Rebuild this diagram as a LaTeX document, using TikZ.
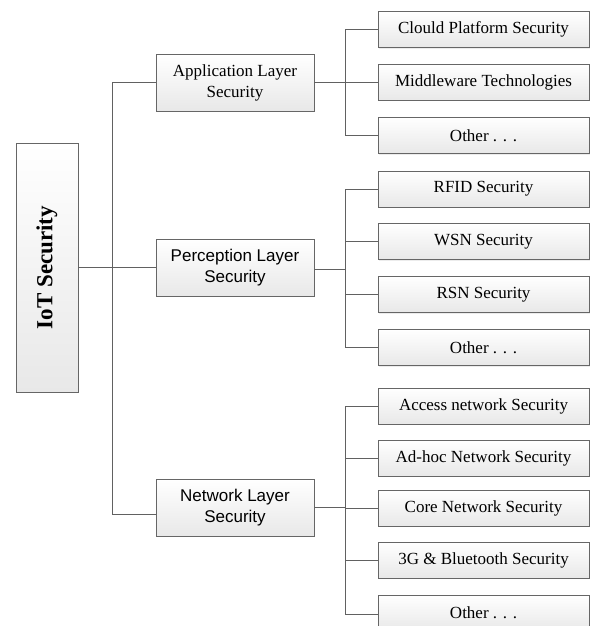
\documentclass[tikz,border=0pt]{standalone}
\usepackage{fontspec}
\setmainfont{Liberation Serif}
\newfontfamily\arialf{Liberation Sans}
\usetikzlibrary{shadows}
\begin{document}
\begin{tikzpicture}[x=1pt,y=-1pt,
  box/.style={draw=black!60, line width=0.9pt, top color=white, bottom color=black!9,
    inner sep=0pt, align=center,
    drop shadow={opacity=0.15, shadow xshift=1.2pt, shadow yshift=-1.2pt}},
  leaf/.style={box, minimum width=211pt, minimum height=36pt, font=\fontsize{17}{21}\selectfont},
  mid/.style={box, minimum width=158pt, minimum height=57pt, font=\fontsize{17}{21}\selectfont},
  midsans/.style={mid, font=\fontsize{17}{21}\selectfont\arialf},
  rootbox/.style={box, rotate=90, minimum width=249pt, minimum height=62pt,
    font=\fontsize{23}{26}\selectfont\bfseries},
  conn/.style={draw=black!62, line width=1pt, line join=miter}]
\useasboundingbox (0,0) rectangle (592,626);

% root
\node[rootbox] (root) at (47,267.5) {IoT Security};

% middle layer
\node[mid] (app) at (235,82.5) {Application Layer\\Security};
\node[midsans] (per) at (235,267.5) {Perception Layer\\Security};
\node[midsans] (net) at (235,507.5) {Network Layer\\Security};

% leaves
\node[leaf] (a1) at (483.5,29.5) {Clould Platform Security};
\node[leaf] (a2) at (483.5,82) {Middleware Technologies};
\node[leaf] (a3) at (483.5,135.5) {Other . . .};
\node[leaf] (p1) at (483.5,189) {RFID Security};
\node[leaf] (p2) at (483.5,241.5) {WSN Security};
\node[leaf] (p3) at (483.5,294.5) {RSN Security};
\node[leaf] (p4) at (483.5,347.5) {Other . . .};
\node[leaf] (n1) at (483.5,406) {Access network Security};
\node[leaf] (n2) at (483.5,458) {Ad-hoc Network Security};
\node[leaf] (n3) at (483.5,508) {Core Network Security};
\node[leaf] (n4) at (483.5,560) {3G \& Bluetooth Security};
\node[leaf] (n5) at (483.5,613) {Other . . .};

% bus coordinates
\coordinate (trunk) at (112,0);
\coordinate (bus) at (345,0);

% root to middle
\draw[conn] (root.south) -- (per.west);
\draw[conn] (app.west) -- (app.west -| trunk)
  -- ([yshift=-6.5pt]net.west -| trunk) -- ([yshift=-6.5pt]net.west);

% application bracket
\draw[conn] (app.east) -- (app.east -| bus);
\draw[conn] (a1.west) -- (a1.west -| bus) -- (a3.west -| bus) -- (a3.west);
\draw[conn] (a2.west) -- (a2.west -| bus);

% perception bracket
\draw[conn] ([yshift=-2pt]per.east) -- ([yshift=-2pt]per.east -| bus);
\draw[conn] (p1.west) -- (p1.west -| bus) -- (p4.west -| bus) -- (p4.west);
\foreach \n in {p2,p3} \draw[conn] (\n.west) -- (\n.west -| bus);

% network bracket
\draw[conn] (net.east) -- (net.east -| bus);
\draw[conn] (n1.west) -- (n1.west -| bus) -- ([yshift=-1pt]n5.west -| bus) -- ([yshift=-1pt]n5.west);
\foreach \n in {n2,n3,n4} \draw[conn] (\n.west) -- (\n.west -| bus);
\end{tikzpicture}
\end{document}
